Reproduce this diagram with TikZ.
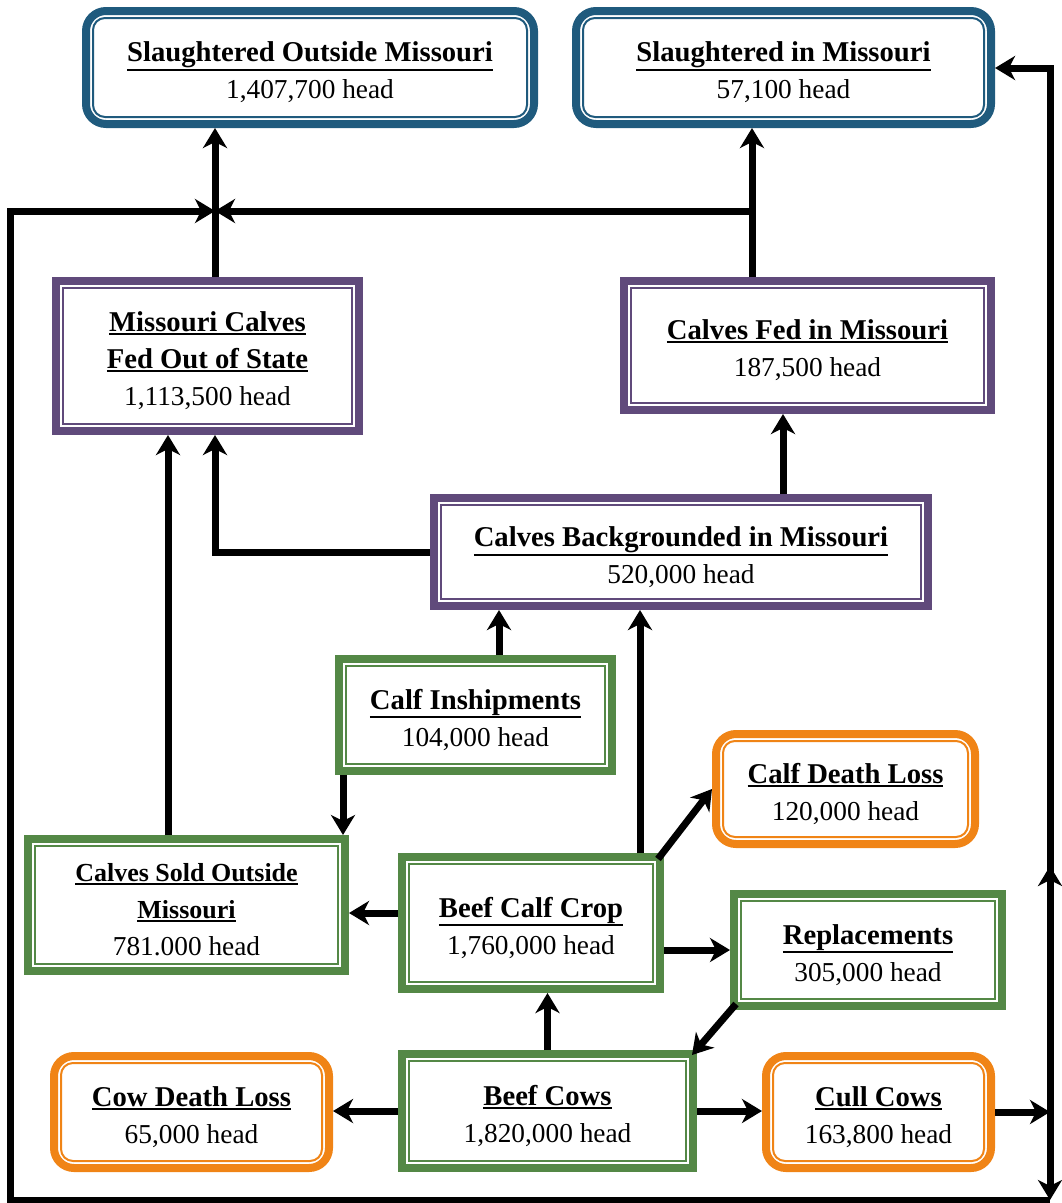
\documentclass[tikz,border=0pt]{standalone}
\usepackage{fontspec}
\setmainfont{Liberation Serif}
\usetikzlibrary{arrows.meta}
\definecolor{cblue}{RGB}{31,90,125}
\definecolor{cpurple}{RGB}{96,74,123}
\definecolor{cgreen}{RGB}{84,136,70}
\definecolor{corange}{RGB}{240,132,22}
\newcommand\ult[1]{\setbox0\hbox{#1}\leavevmode\rlap{\rule[-\dimexpr\dp0+2.4pt\relax]{\wd0}{1.5pt}}\box0}
\newcommand\ttl[1]{{\fontsize{21.5}{27.75}\selectfont\bfseries\ult{#1}}}
\newcommand\stl[1]{{\fontsize{19.5}{26.25}\selectfont\bfseries\ult{#1}}}
\newcommand\val[1]{{\fontsize{20.5}{27.75}\selectfont #1}}
\newcommand\flowbox[7]{%
  \pgfmathsetmacro\flbw{(#4-#2-8)*0.75}%
  \pgfmathsetmacro\flbh{(#5-#3-8)*0.75}%
  \node[#6box,minimum width=\flbw pt,minimum height=\flbh pt] (#1) at ({(#2+#4)/2},{(#3+#5)/2}) {};%
  \draw[#6inner] ([shift={(11,11)}]#1.north west) rectangle ([shift={(-11,-11)}]#1.south east);%
  \node[boxtext] (#1t) at ([yshift=-3.5pt]#1.center) {#7};%
}
\tikzset{
  basebox/.style={draw, line width=6pt, outer sep=3pt, inner sep=0pt, fill=white},
  boxtext/.style={inner sep=0pt, align=center, font=\fontsize{20.5}{27.75}\selectfont},
  bluebox/.style={basebox, draw=cblue, rounded corners=15pt},
  blueinner/.style={draw=cblue, line width=1.5pt, rounded corners=9pt},
  purplebox/.style={basebox, draw=cpurple},
  purpleinner/.style={draw=cpurple, line width=1.5pt},
  greenbox/.style={basebox, draw=cgreen},
  greeninner/.style={draw=cgreen, line width=1.5pt},
  orangebox/.style={basebox, draw=corange, rounded corners=15pt},
  orangeinner/.style={draw=corange, line width=1.5pt, rounded corners=9pt},
  arr/.style={line width=5.25pt, -{Stealth[length=15pt,width=18pt,inset=4.5pt]}},
}
\begin{document}
\begin{tikzpicture}[x=0.75pt,y=-0.75pt]
\useasboundingbox (0,0) rectangle (1062,1203);
\flowbox{sout}{82}{7}{538}{128}{blue}{\ttl{Slaughtered Outside Missouri}\\\val{1,407,700 head}}
\flowbox{sin}{572}{7}{995}{128}{blue}{\ttl{Slaughtered in Missouri}\\\val{57,100 head}}
\flowbox{mcfo}{52}{277}{363}{435}{purple}{\ttl{Missouri Calves}\\\ttl{Fed Out of State}\\\val{1,113,500 head}}
\flowbox{cfim}{620}{277}{995}{414}{purple}{\ttl{Calves Fed in Missouri}\\\val{187,500 head}}
\flowbox{cbim}{430}{494}{932}{610}{purple}{\ttl{Calves Backgrounded in Missouri}\\\val{520,000 head}}
\flowbox{cins}{335}{655}{616}{775}{green}{\ttl{Calf Inshipments}\\\val{104,000 head}}
\flowbox{cdl}{712}{730}{979}{848}{orange}{\ttl{Calf Death Loss}\\\val{120,000 head}}
\flowbox{csom}{24}{835}{349}{975}{green}{\stl{Calves Sold Outside}\\\stl{Missouri}\\\val{781.000 head}}
\flowbox{bcc}{398}{853}{664}{993}{green}{\ttl{Beef Calf Crop}\\\val{1,760,000 head}}
\flowbox{rep}{730}{890}{1006}{1010}{green}{\ttl{Replacements}\\\val{305,000 head}}
\flowbox{cowdl}{50}{1052}{333}{1172}{orange}{\ttl{Cow Death Loss}\\\val{65,000 head}}
\flowbox{bc}{398}{1050}{697}{1172}{green}{\ttl{Beef Cows}\\\val{1,820,000 head}}
\flowbox{cull}{762}{1052}{995}{1172}{orange}{\ttl{Cull Cows}\\\val{163,800 head}}

\coordinate (jL) at (215,211);
\coordinate (jR) at (752,211);
\coordinate (tl) at (10,211);
\coordinate (bl) at (10,1200);
\coordinate (br) at (1050,1200);
\coordinate (cr) at (1050,1112);
\coordinate (tr) at (1050,68);
\coordinate (mid) at (1050,866);
\coordinate (x168) at (168,0);
\coordinate (x783) at (783,0);
\coordinate (x499) at (499,0);
\coordinate (x343) at (343,0);
\coordinate (x640) at (640,0);
\coordinate (y913) at (0,913);

\draw[arr] (mcfo.north -| jL) -- (sout.south -| jL);
\draw[arr] (cfim.north -| jR) -- (sin.south -| jR);
\draw[arr] (jR) -- (jL);
\draw[arr] (br) -- (bl) -- (tl) -- (jL);
\draw[arr] (cull.east) -- (cr);
\draw[arr] (cr) -- (tr) -- (sin.east |- tr);
\draw[arr] (cr) -- (mid);
\draw[arr] (cr) -- (br);
\draw[arr] (cbim.west) -| (mcfo.south -| jL);
\draw[arr] (csom.north -| x168) -- (mcfo.south -| x168);
\draw[arr] (cbim.north -| x783) -- (cfim.south -| x783);
\draw[arr] (cins.north -| x499) -- (cbim.south -| x499);
\draw[arr] (cins.south -| x343) -- (csom.north -| x343);
\draw[arr] (bcc.north -| x640) -- (cbim.south -| x640);
\draw[arr] ([shift={(-6,6)}]bcc.north east) -- (cdl.west);
\draw[arr] (bcc.west |- y913) -- (csom.east |- y913);
\draw[arr] (bcc.east |- rep.west) -- (rep.west);
\draw[arr] ([shift={(6,-6)}]rep.south west) -- ([shift={(-5,5)}]bc.north east);
\draw[arr] (bc.north) -- (bcc.south -| bc.north);
\draw[arr] (bc.west) -- (cowdl.east |- bc.west);
\draw[arr] (bc.east) -- (cull.west |- bc.east);
\end{tikzpicture}
\end{document}
